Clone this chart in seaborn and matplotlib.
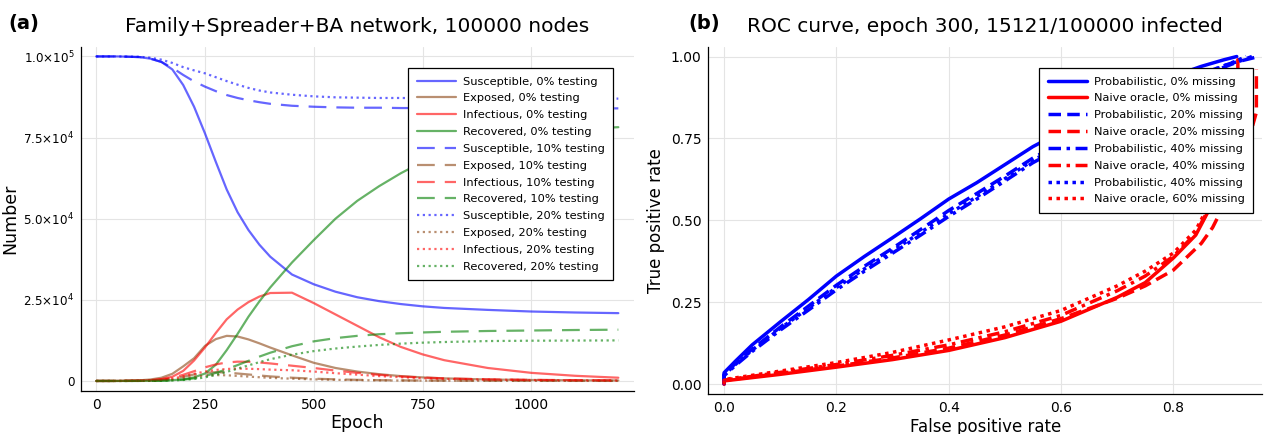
import numpy as np
import pandas as pd
import matplotlib
matplotlib.use("Agg")
import matplotlib.pyplot as plt
import seaborn as sns

# ---------------- data: panel (a) ----------------
epoch = [0, 50, 100, 125, 150, 175, 200, 225, 250, 275, 300, 325, 350, 375, 400,
         450, 500, 550, 600, 650, 700, 750, 800, 900, 1000, 1100, 1200]

S0 = [100000, 100000, 99800, 99300, 98300, 96000, 91200, 84500, 76300, 67500, 59000, 52000, 46500, 42000, 38300,
      32800, 29800, 27500, 25800, 24600, 23700, 23000, 22500, 21900, 21400, 21100, 20900]
E0 = [0, 20, 200, 450, 1000, 2200, 4500, 7000, 10800, 12900, 13900, 13700, 12800, 11600, 10300,
      7900, 5600, 4000, 2900, 2100, 1500, 1100, 800, 450, 300, 200, 150]
I0 = [0, 10, 100, 250, 600, 1300, 3100, 6300, 10300, 14800, 19000, 22000, 24300, 26000, 27100,
      27200, 24000, 20500, 17000, 13500, 10500, 8200, 6400, 4000, 2500, 1600, 1000]
R0 = [0, 0, 20, 50, 120, 250, 500, 1100, 2300, 5000, 9500, 14500, 19800, 24500, 28800,
      36500, 43400, 50000, 55500, 60000, 64000, 67500, 70300, 74300, 76500, 77600, 78200]

S10 = [100000, 100000, 99800, 99300, 98300, 96500, 94300, 92300, 90700, 89300, 88100, 87200, 86500, 85900, 85400,
       84800, 84500, 84300, 84200, 84200, 84100, 84100, 84100, 84000, 84000, 84000, 84000]
E10 = [0, 0, 50, 120, 300, 700, 1300, 2000, 2500, 2700, 2600, 2300, 2000, 1700, 1400,
       1000, 700, 500, 350, 250, 180, 130, 100, 60, 40, 30, 20]
I10 = [0, 0, 80, 200, 450, 1000, 1900, 3000, 4200, 5100, 5700, 5950, 5900, 5700, 5400,
       4700, 4000, 3200, 2500, 1900, 1400, 1050, 800, 500, 350, 250, 200]
R10 = [0, 0, 10, 30, 80, 180, 400, 800, 1500, 2500, 3600, 4900, 6200, 7500, 8700,
       10700, 12200, 13200, 13900, 14400, 14700, 14950, 15150, 15400, 15550, 15700, 15800]

S20 = [100000, 100000, 99900, 99600, 99000, 98000, 96700, 95700, 94800, 93600, 92400, 91300, 90300, 89500, 88900,
       88200, 87700, 87400, 87300, 87200, 87200, 87100, 87100, 87100, 87000, 87000, 87000]
E20 = [0, 0, 30, 80, 200, 450, 850, 1300, 1650, 1800, 1750, 1550, 1350, 1150, 950,
       700, 500, 350, 250, 180, 130, 100, 80, 50, 30, 20, 15]
I20 = [0, 0, 60, 150, 350, 750, 1400, 2200, 2900, 3400, 3700, 3800, 3750, 3650, 3500,
       3300, 2900, 2400, 1950, 1500, 1150, 850, 650, 420, 290, 210, 150]
R20 = [0, 0, 10, 25, 60, 140, 300, 600, 1100, 1900, 2800, 3800, 4800, 5800, 6700,
       8100, 9200, 10000, 10600, 11100, 11500, 11800, 12000, 12300, 12400, 12450, 12500]

compartments = ["Susceptible", "Exposed", "Infectious", "Recovered"]
testing_levels = ["0%", "10%", "20%"]
left_yticks = [0, 25000, 50000, 75000, 100000]
left_yticklabels = ["0", "2.5×10$^{4}$", "5.0×10$^{4}$", "7.5×10$^{4}$", "1.0×10$^{5}$"]
left_xticks = [0, 250, 500, 750, 1000]

# ---------------- data: panel (b) ----------------
fpr_p0 = [0, 0.0, 0.02, 0.05, 0.1, 0.15, 0.2, 0.25, 0.3, 0.35, 0.4, 0.45, 0.5, 0.55, 0.6, 0.65, 0.7, 0.75, 0.8, 0.85, 0.89, 0.913]
tpr_p0 = [0, 0.035, 0.07, 0.12, 0.19, 0.258, 0.33, 0.39, 0.447, 0.505, 0.565, 0.615, 0.67, 0.725, 0.77, 0.815, 0.86, 0.9, 0.94, 0.97, 0.99, 1.0]
fpr_p20 = [0, 0.0, 0.02, 0.05, 0.1, 0.15, 0.2, 0.25, 0.3, 0.35, 0.4, 0.45, 0.5, 0.55, 0.6, 0.65, 0.7, 0.75, 0.8, 0.85, 0.9, 0.952]
tpr_p20 = [0, 0.03, 0.063, 0.107, 0.174, 0.238, 0.302, 0.36, 0.415, 0.472, 0.53, 0.582, 0.635, 0.69, 0.737, 0.782, 0.828, 0.87, 0.91, 0.947, 0.978, 1.0]
fpr_p40 = [0, 0.0, 0.02, 0.05, 0.1, 0.15, 0.2, 0.25, 0.3, 0.35, 0.4, 0.45, 0.5, 0.55, 0.6, 0.65, 0.7, 0.75, 0.8, 0.85, 0.9, 0.94]
tpr_p40 = [0, 0.026, 0.057, 0.1, 0.165, 0.226, 0.288, 0.345, 0.4, 0.455, 0.512, 0.565, 0.62, 0.676, 0.722, 0.77, 0.816, 0.86, 0.902, 0.94, 0.974, 1.0]
fpr_p40b = [0, 0.0, 0.02, 0.05, 0.1, 0.15, 0.2, 0.25, 0.3, 0.35, 0.4, 0.45, 0.5, 0.55, 0.6, 0.65, 0.7, 0.75, 0.8, 0.85, 0.9, 0.93]
tpr_p40b = [0, 0.028, 0.06, 0.104, 0.17, 0.232, 0.295, 0.352, 0.407, 0.463, 0.52, 0.572, 0.627, 0.683, 0.729, 0.776, 0.822, 0.865, 0.906, 0.945, 0.978, 1.0]

fpr_n0 = [0, 0.0, 0.05, 0.1, 0.2, 0.3, 0.4, 0.5, 0.6, 0.7, 0.75, 0.8, 0.84, 0.86, 0.88, 0.9, 0.915, 0.915]
tpr_n0 = [0, 0.01, 0.02, 0.03, 0.052, 0.075, 0.103, 0.142, 0.192, 0.265, 0.31, 0.385, 0.455, 0.52, 0.6, 0.72, 0.85, 0.99]
fpr_n20 = [0, 0.0, 0.05, 0.1, 0.2, 0.3, 0.4, 0.5, 0.6, 0.7, 0.75, 0.8, 0.85, 0.87, 0.9, 0.93, 0.948, 0.948]
tpr_n20 = [0, 0.012, 0.022, 0.033, 0.055, 0.08, 0.11, 0.15, 0.2, 0.262, 0.3, 0.348, 0.43, 0.478, 0.58, 0.72, 0.83, 0.96]
fpr_n40 = [0, 0.0, 0.05, 0.1, 0.2, 0.3, 0.4, 0.5, 0.6, 0.7, 0.75, 0.8, 0.84, 0.86, 0.88, 0.9, 0.92]
tpr_n40 = [0, 0.012, 0.024, 0.036, 0.06, 0.088, 0.12, 0.16, 0.21, 0.285, 0.33, 0.39, 0.46, 0.525, 0.61, 0.73, 0.86]
fpr_n60 = [0, 0.0, 0.05, 0.1, 0.2, 0.3, 0.4, 0.5, 0.6, 0.7, 0.75, 0.8, 0.84, 0.86, 0.88, 0.9, 0.92]
tpr_n60 = [0, 0.014, 0.027, 0.04, 0.066, 0.097, 0.135, 0.175, 0.225, 0.3, 0.345, 0.4, 0.47, 0.535, 0.62, 0.74, 0.87]

roc_labels = ["Probabilistic, 0% missing", "Naive oracle, 0% missing",
              "Probabilistic, 20% missing", "Naive oracle, 20% missing",
              "Probabilistic, 40% missing", "Naive oracle, 40% missing",
              "Probabilistic, 40% missing", "Naive oracle, 60% missing"]
right_xticks = [0.0, 0.2, 0.4, 0.6, 0.8]
right_yticks = [0.0, 0.25, 0.5, 0.75, 1.0]

# ---------------- styling ----------------
sns.set_style("white")
plt.rcParams["font.family"] = ["DejaVu Sans"]
plt.rcParams["axes.unicode_minus"] = False
plt.rcParams["text.color"] = "black"
plt.rcParams["axes.labelcolor"] = "black"
plt.rcParams["xtick.color"] = "black"
plt.rcParams["ytick.color"] = "black"

W, H = 1267, 434
fig = plt.figure(figsize=(W / 100, H / 100), dpi=100)
axL = fig.add_axes([80.5 / W, 1 - 390.7 / H, (634 - 80.5) / W, (390.7 - 46.7) / H])
axR = fig.add_axes([708.4 / W, 1 - 394 / H, (1262 - 708.4) / W, (394 - 46.7) / H])

LEFT_STYLES = {"0%": "-", "10%": (0, (8, 4.5)), "20%": (0, (1.0, 1.6))}
LEFT_COLORS = {"Susceptible": "#0000ff", "Exposed": "#8b4513",
               "Infectious": "#ff0000", "Recovered": "#008000"}
series = {
    ("Susceptible", "0%"): S0, ("Exposed", "0%"): E0, ("Infectious", "0%"): I0, ("Recovered", "0%"): R0,
    ("Susceptible", "10%"): S10, ("Exposed", "10%"): E10, ("Infectious", "10%"): I10, ("Recovered", "10%"): R10,
    ("Susceptible", "20%"): S20, ("Exposed", "20%"): E20, ("Infectious", "20%"): I20, ("Recovered", "20%"): R20,
}

for t in testing_levels:
    for c in compartments:
        df = pd.DataFrame({"Epoch": epoch, "Number": series[(c, t)]})
        sns.lineplot(data=df, x="Epoch", y="Number", ax=axL, color=LEFT_COLORS[c],
                     linestyle=LEFT_STYLES[t], linewidth=1.6, alpha=0.6,
                     estimator=None, sort=False, label=f"{c}, {t} testing")

axL.set_xlim(-36, 1236)
axL.set_ylim(-3000, 103000)
axL.set_xticks(left_xticks)
axL.set_xticklabels([str(v) for v in left_xticks])
axL.set_yticks(left_yticks)
axL.set_yticklabels(left_yticklabels)
axL.set_xlabel("Epoch", fontsize=12.5, labelpad=2)
axL.set_ylabel("Number", fontsize=12.5, labelpad=3)

RIGHT_DATA = [
    (fpr_p0, tpr_p0, "#0000ff", "-"),
    (fpr_n0, tpr_n0, "#ff0000", "-"),
    (fpr_p20, tpr_p20, "#0000ff", (0, (3.6, 1.8))),
    (fpr_n20, tpr_n20, "#ff0000", (0, (3.6, 1.8))),
    (fpr_p40, tpr_p40, "#0000ff", (0, (3.6, 1.6, 1.0, 1.6))),
    (fpr_n40, tpr_n40, "#ff0000", (0, (3.6, 1.6, 1.0, 1.6))),
    (fpr_p40b, tpr_p40b, "#0000ff", (0, (1.0, 1.3))),
    (fpr_n60, tpr_n60, "#ff0000", (0, (1.0, 1.3))),
]
for (fx, fy, col, ls), lab in zip(RIGHT_DATA, roc_labels):
    df = pd.DataFrame({"FPR": fx, "TPR": fy})
    sns.lineplot(data=df, x="FPR", y="TPR", ax=axR, color=col, linestyle=ls,
                 linewidth=2.5, estimator=None, sort=False, label=lab)

axR.set_xlim(-0.028, 0.958)
axR.set_ylim(-0.03, 1.03)
axR.set_xticks(right_xticks)
axR.set_xticklabels([f"{v:.1f}" for v in right_xticks])
axR.set_yticks(right_yticks)
axR.set_yticklabels([f"{v:.2f}" for v in right_yticks])
axR.set_xlabel("False positive rate", fontsize=12, labelpad=2)
axR.set_ylabel("True positive rate", fontsize=12, labelpad=4)

for ax in (axL, axR):
    ax.grid(True, color="#e4e4e4", linewidth=0.8)
    ax.set_axisbelow(True)
    for s in ("top", "right"):
        ax.spines[s].set_visible(False)
    for s in ("left", "bottom"):
        ax.spines[s].set_color("black")
        ax.spines[s].set_linewidth(0.9)
    ax.tick_params(axis="both", direction="out", length=3, width=0.8,
                   labelsize=10, colors="black", pad=2)
axL.tick_params(axis="y", labelsize=8.6, pad=1.5)

leg_kw = dict(borderaxespad=0, fontsize=8.2, frameon=True, fancybox=False, framealpha=1,
              edgecolor="black", handlelength=3.4, handletextpad=0.6,
              labelspacing=0.6, borderpad=0.75, bbox_transform=fig.transFigure,
              loc="upper right")
legL = axL.legend(bbox_to_anchor=(613 / W, 1 - 68 / H), **leg_kw)
legL.get_frame().set_linewidth(0.9)
legR = axR.legend(bbox_to_anchor=(1253 / W, 1 - 68 / H), **leg_kw)
legR.get_frame().set_linewidth(0.9)

fig.text((80.5 + 634) / 2 / W, 1 - 26 / H, "Family+Spreader+BA network, 100000 nodes",
         ha="center", va="center", fontsize=14.5)
fig.text((708.4 + 1262) / 2 / W, 1 - 26 / H, "ROC curve, epoch 300, 15121/100000 infected",
         ha="center", va="center", fontsize=14.5)
fig.text(8 / W, 1 - 24 / H, "(a)", ha="left", va="center", fontsize=14, fontweight="bold")
fig.text(688 / W, 1 - 24 / H, "(b)", ha="left", va="center", fontsize=14, fontweight="bold")

fig.savefig("out.png", dpi=100)
